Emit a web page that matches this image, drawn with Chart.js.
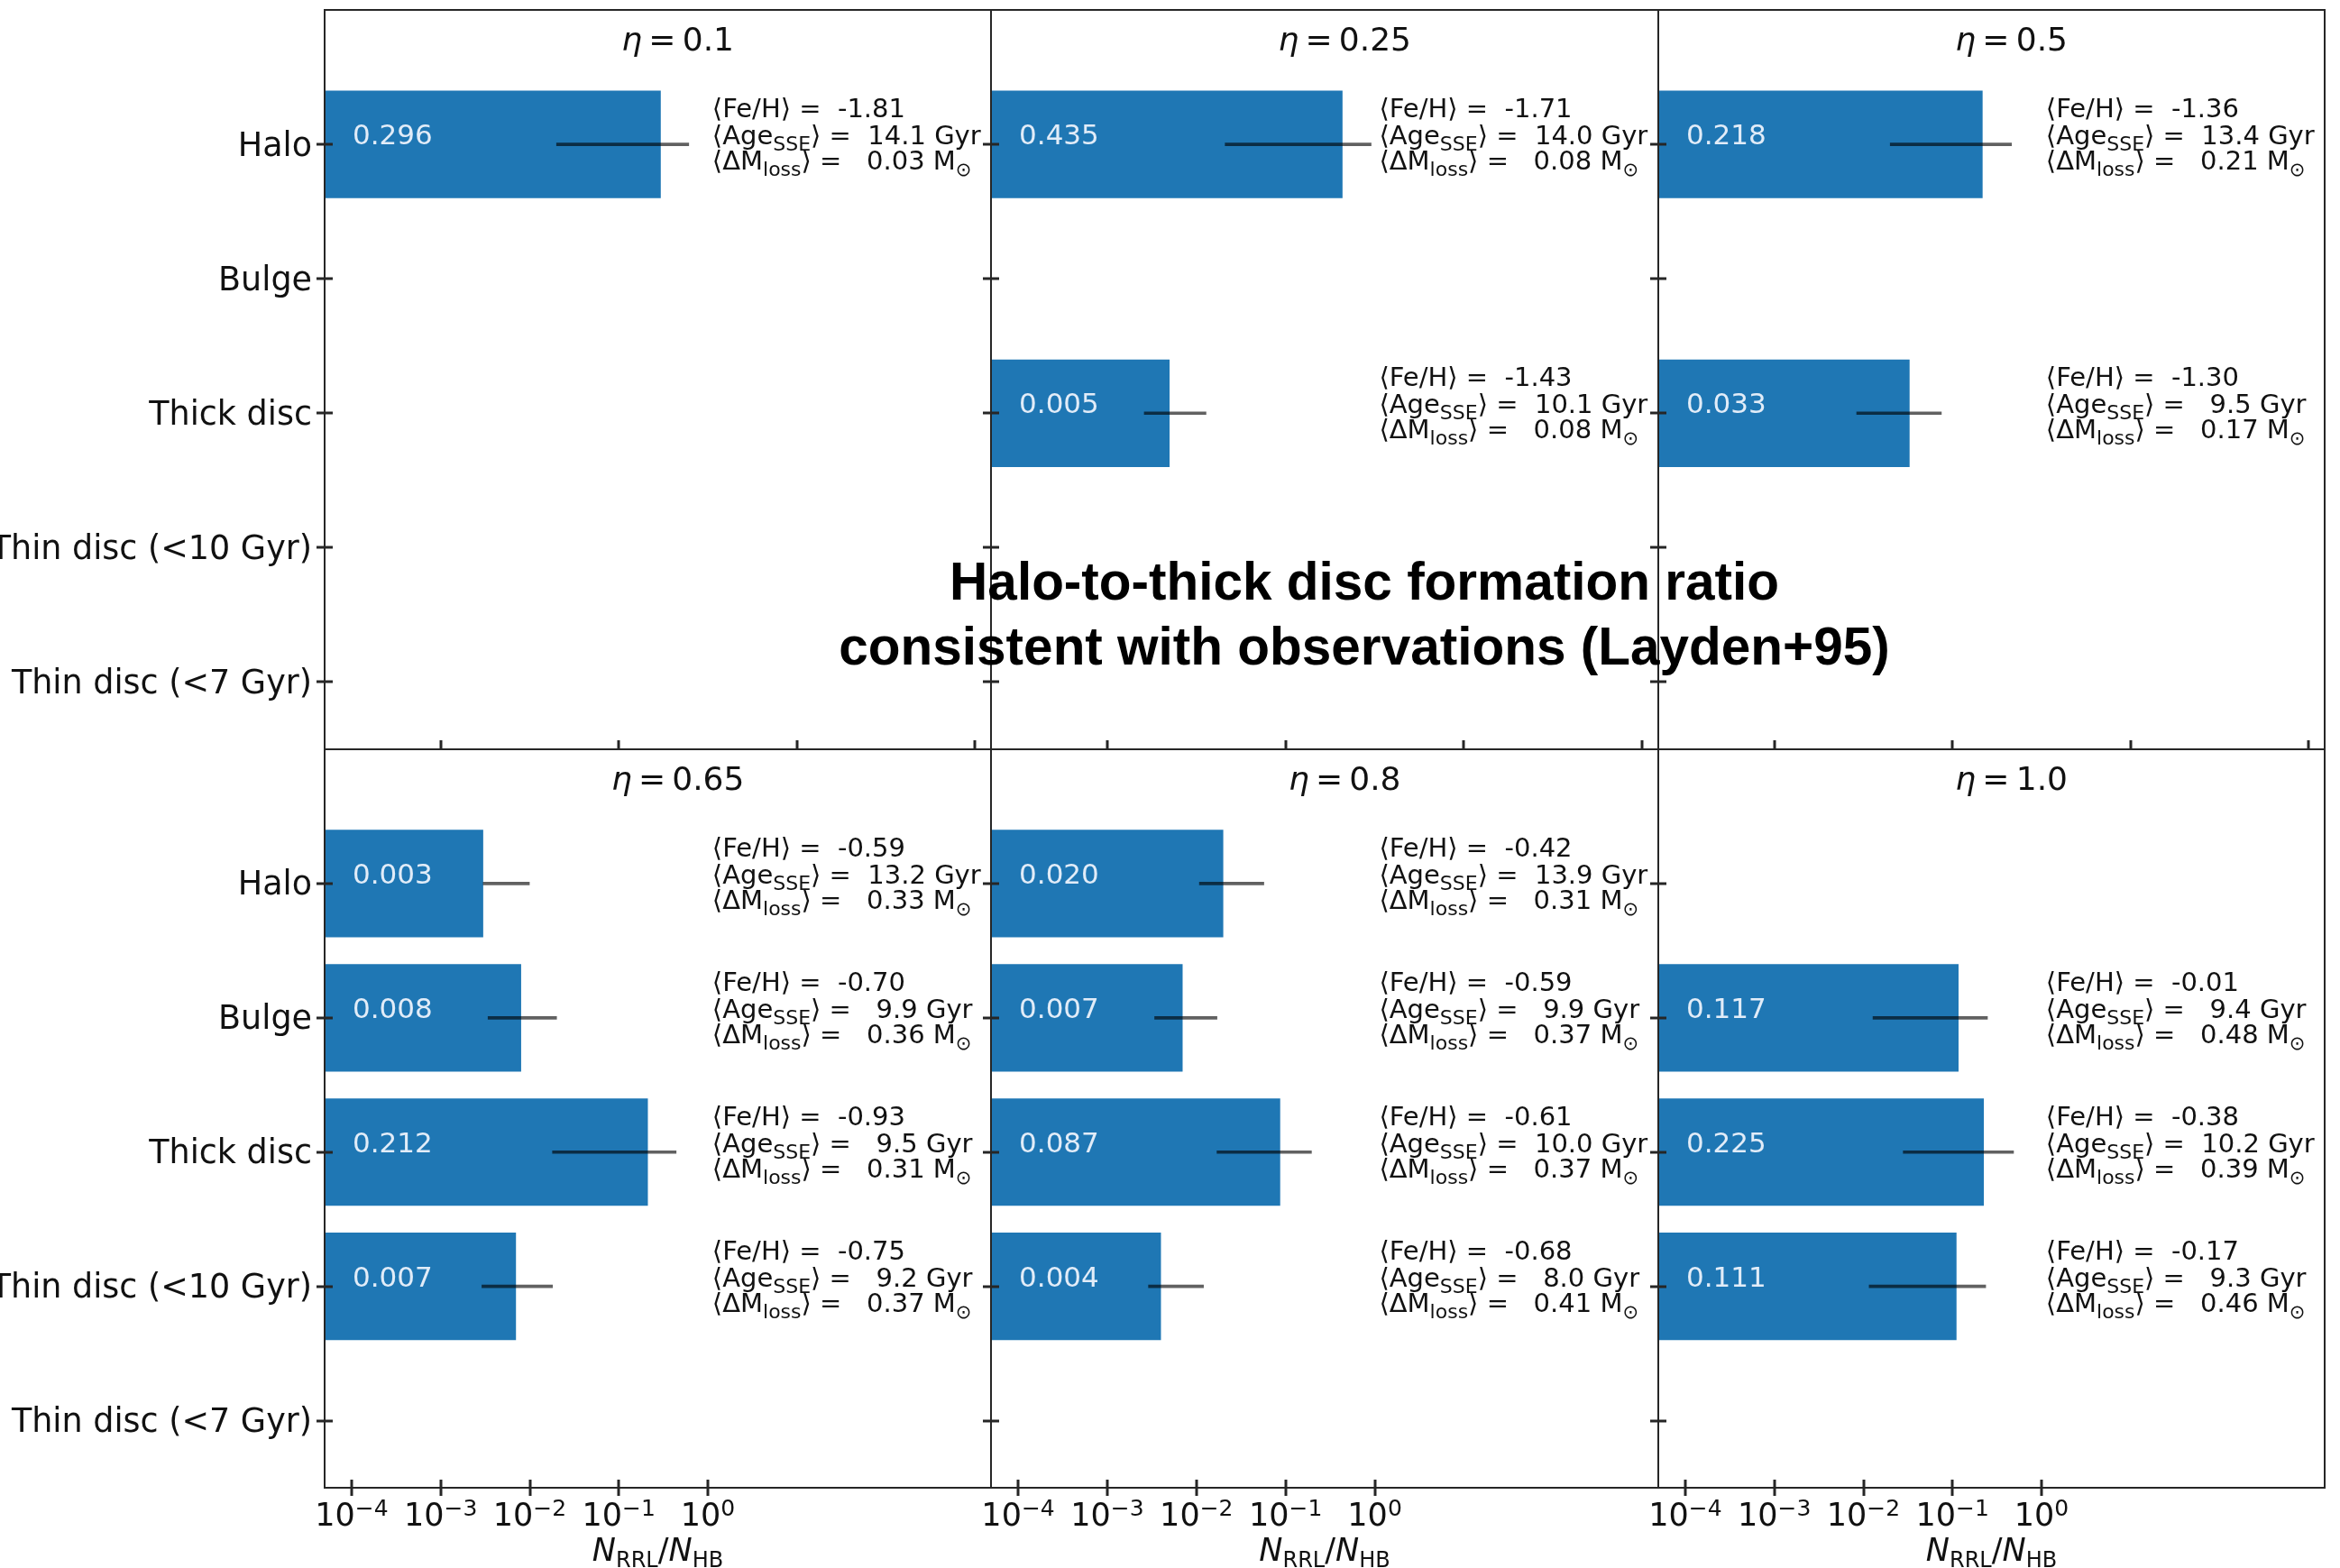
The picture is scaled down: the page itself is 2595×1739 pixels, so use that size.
<!DOCTYPE html>
<html>
<head>
<meta charset="utf-8">
<title>RR Lyrae fraction per Galactic component</title>
<script src="https://cdn.jsdelivr.net/npm/chart.js@4.4.1/dist/chart.umd.min.js"></script>
<style>
  html, body { margin: 0; padding: 0; background: #fff; }
  #fig { position: relative; width: 2595px; height: 1739px; overflow: hidden; background: #fff; }
  #fig canvas { position: absolute; }
  #note {
    position: absolute; left: 713px; top: 609px; width: 1600px;
    font: bold 58.5px "Liberation Sans", Arial, Helvetica, sans-serif;
    line-height: 72px; text-align: center; color: #000; white-space: nowrap; z-index: 10;
  }
</style>
</head>
<body>
<div id="fig">
  <div id="note">Halo-to-thick disc formation ratio<br>consistent with observations (Layden+95)</div>
</div>
<script>
// Galactic components (rows of every panel, top to bottom)
const categories = ['Halo', 'Bulge', 'Thick disc', 'Thin disc (<10 Gyr)', 'Thin disc (<7 Gyr)'];

// Mass-loss efficiency eta of each panel (row-major: top row then bottom row)
const etaLabels = ['0.1', '0.25', '0.5', '0.65', '0.8', '1.0'];

// N_RRL / N_HB per panel and component (null: no RR Lyrae produced)
const ratio = [
  [0.296, null, null, null, null],
  [0.435, null, 0.005, null, null],
  [0.218, null, 0.033, null, null],
  [0.003, 0.008, 0.212, 0.007, null],
  [0.020, 0.007, 0.087, 0.004, null],
  [null, 0.117, 0.225, 0.111, null]
];

// Lower and upper ends of the uncertainty on N_RRL / N_HB
const errLow = [
  [0.020, null, null, null, null],
  [0.021, null, 0.0026, null, null],
  [0.020, null, 0.0084, null, null],
  [0.003, 0.0034, 0.018, 0.0029, null],
  [0.0108, 0.0034, 0.017, 0.0029, null],
  [null, 0.0128, 0.028, 0.0116, null]
];
const errHigh = [
  [0.61, null, null, null, null],
  [0.91, null, 0.0128, null, null],
  [0.46, null, 0.075, null, null],
  [0.0099, 0.020, 0.44, 0.018, null],
  [0.057, 0.017, 0.195, 0.012, null],
  [null, 0.247, 0.485, 0.236, null]
];

// Mean properties of the RR Lyrae stars
const meanFeH = [
  [-1.81, null, null, null, null],
  [-1.71, null, -1.43, null, null],
  [-1.36, null, -1.30, null, null],
  [-0.59, -0.70, -0.93, -0.75, null],
  [-0.42, -0.59, -0.61, -0.68, null],
  [null, -0.01, -0.38, -0.17, null]
];
const meanAge = [
  [14.1, null, null, null, null],
  [14.0, null, 10.1, null, null],
  [13.4, null, 9.5, null, null],
  [13.2, 9.9, 9.5, 9.2, null],
  [13.9, 9.9, 10.0, 8.0, null],
  [null, 9.4, 10.2, 9.3, null]
];
const meanMassLoss = [
  [0.03, null, null, null, null],
  [0.08, null, 0.08, null, null],
  [0.21, null, 0.17, null, null],
  [0.33, 0.36, 0.31, 0.37, null],
  [0.31, 0.37, 0.37, 0.41, null],
  [null, 0.48, 0.39, 0.46, null]
];

// Log-axis tick values
const xTicksBottom = [1e-4, 1e-3, 1e-2, 1e-1, 1];
const xTicksTop = [1e-3, 1e-1, 1e1, 1e3];

// Axis limits
const X_MIN = Math.pow(10, -4.304);
const X_MAX = Math.pow(10, 3.18);
const Y_MIN = -1;
const Y_MAX = 4.5;
const LABEL_AT = 1e-4;   // x where the value text inside the bars starts
const NOTE_AT = 1.12;    // x where the mean-property text starts

// Figure grid (pixels)
const colLeft = [360, 1099, 1839];
const colWidth = [739, 740, 739];
const rowTop = [11, 831];
const rowHeight = [820, 819];

const FAMILY = "'DejaVu Sans', 'Liberation Sans', sans-serif";
const TEXT = '#111';
const AXIS = '#262626';
const BAR = '#1f77b4';

function fontOf(p) {
  return (p.italic ? 'italic ' : '') + p.size + 'px ' + FAMILY;
}
function richWidth(ctx, parts) {
  let w = 0;
  for (const p of parts) { ctx.font = fontOf(p); w += ctx.measureText(p.t).width; }
  return w;
}
function drawRich(ctx, parts, x, y) {
  for (const p of parts) {
    ctx.font = fontOf(p);
    ctx.fillText(p.t, x, y + (p.dy || 0));
    x += ctx.measureText(p.t).width;
  }
}
function superscript(n) {
  return n < 0 ? '\u2212' + Math.abs(n) : String(n);
}

function makeDecor(p) {
  const row = p < 3 ? 0 : 1;
  return {
    id: 'decor' + p,
    afterDatasetsDraw(chart) {
      const { ctx, scales: { x, y } } = chart;
      ctx.save();
      ctx.textAlign = 'left';
      ctx.textBaseline = 'alphabetic';
      ratio[p].forEach((v, i) => {
        if (v === null) return;
        const cy = y.getPixelForValue(i);
        // value inside the bar
        ctx.font = '31px ' + FAMILY;
        ctx.fillStyle = 'rgba(236,242,252,0.95)';
        ctx.fillText(v.toFixed(3), x.getPixelForValue(LABEL_AT) + 1, cy);
        // mean properties
        const ax = x.getPixelForValue(NOTE_AT);
        ctx.fillStyle = TEXT;
        drawRich(ctx, [
          { t: '\u27E8Fe/H\u27E9 =  ' + meanFeH[p][i].toFixed(2).padStart(5), size: 29 }
        ], ax, cy - 30);
        drawRich(ctx, [
          { t: '\u27E8Age', size: 29 },
          { t: 'SSE', size: 22, dy: 7 },
          { t: '\u27E9 =  ' + meanAge[p][i].toFixed(1).padStart(4) + ' Gyr', size: 29 }
        ], ax, cy);
        drawRich(ctx, [
          { t: '\u27E8\u0394M', size: 29 },
          { t: 'loss', size: 22, dy: 7 },
          { t: '\u27E9 =  ' + meanMassLoss[p][i].toFixed(2).padStart(5) + ' M', size: 29 },
          { t: '\u2299', size: 21, dy: 7 }
        ], ax, cy + 28);
      });
      ctx.restore();
    },
    afterDraw(chart) {
      const { ctx, chartArea: a, scales: { x, y } } = chart;
      ctx.save();
      // frame
      ctx.strokeStyle = AXIS;
      ctx.lineWidth = 2;
      ctx.strokeRect(a.left, a.top, a.right - a.left, a.bottom - a.top);
      // tick marks
      ctx.lineWidth = 3;
      ctx.beginPath();
      y.ticks.forEach(t => {
        const py = Math.round(y.getPixelForValue(t.value));
        ctx.moveTo(a.left - 9, py); ctx.lineTo(a.left + 9, py);
      });
      x.ticks.forEach(t => {
        const px = Math.round(x.getPixelForValue(t.value));
        if (row === 1) { ctx.moveTo(px, a.bottom + 9); ctx.lineTo(px, a.bottom - 9); }
        else { ctx.moveTo(px, a.bottom); ctx.lineTo(px, a.bottom - 10); }
      });
      ctx.stroke();

      ctx.fillStyle = TEXT;
      ctx.textAlign = 'left';
      ctx.textBaseline = 'alphabetic';
      // x tick labels and axis title on the bottom row
      if (row === 1) {
        x.ticks.forEach(t => {
          const e = Math.round(Math.log10(t.value));
          const parts = [
            { t: '10', size: 35 },
            { t: superscript(e), size: 25, dy: -11 }
          ];
          const w = richWidth(ctx, parts);
          drawRich(ctx, parts, x.getPixelForValue(t.value) - w / 2, a.bottom + 42);
        });
        const lab = [
          { t: 'N', size: 35, italic: true },
          { t: 'RRL', size: 24, dy: 7 },
          { t: '/', size: 35 },
          { t: 'N', size: 35, italic: true },
          { t: 'HB', size: 24, dy: 7 }
        ];
        const lw = richWidth(ctx, lab);
        drawRich(ctx, lab, (a.left + a.right) / 2 - lw / 2, a.bottom + 81);
      }
      // panel title
      const tparts = [
        { t: '\u03B7', size: 36, italic: true },
        { t: '\u2009=\u2009' + etaLabels[p], size: 36 }
      ];
      const tw = richWidth(ctx, tparts);
      drawRich(ctx, tparts, a.left + 0.53 * (a.right - a.left) - tw / 2, a.top + 45);
      ctx.restore();
    }
  };
}

const fig = document.getElementById('fig');
const note = document.getElementById('note');

for (let p = 0; p < 6; p++) {
  const row = p < 3 ? 0 : 1;
  const col = p % 3;
  const Lm = col === 0 ? 360 : 24;
  const Rm = col === 2 ? 17 : 24;
  const Tm = row === 0 ? 11 : 24;
  const Bm = row === 1 ? 89 : 24;

  const canvas = document.createElement('canvas');
  canvas.width = Lm + colWidth[col] + Rm;
  canvas.height = Tm + rowHeight[row] + Bm;
  canvas.style.left = (colLeft[col] - Lm) + 'px';
  canvas.style.top = (rowTop[row] - Tm) + 'px';
  fig.insertBefore(canvas, note);

  const barData = [];
  const errData = [];
  ratio[p].forEach((v, i) => {
    if (v === null) return;
    barData.push({ x: v, y: i });
    errData.push({ x: [errLow[p][i], errHigh[p][i]], y: i });
  });

  const tickVals = row === 1 ? xTicksBottom : xTicksTop;

  new Chart(canvas, {
    type: 'bar',
    data: {
      datasets: [
        {
          label: 'N_RRL/N_HB',
          data: barData,
          backgroundColor: BAR,
          borderWidth: 0,
          grouped: false,
          categoryPercentage: 0.8,
          barPercentage: 1.0,
          order: 2
        },
        {
          label: 'uncertainty',
          data: errData,
          backgroundColor: 'rgba(0,0,0,0.62)',
          borderWidth: 0,
          grouped: false,
          barThickness: 3,
          order: 1
        }
      ]
    },
    options: {
      indexAxis: 'y',
      responsive: false,
      animation: false,
      devicePixelRatio: 1,
      layout: { padding: { left: 0, top: Tm, right: Rm, bottom: 0 } },
      plugins: { legend: { display: false }, tooltip: { enabled: false } },
      scales: {
        x: {
          type: 'logarithmic',
          position: 'bottom',
          min: X_MIN,
          max: X_MAX,
          bounds: 'data',
          offset: false,
          grid: { display: false, drawTicks: false },
          border: { display: false },
          ticks: { display: false },
          afterBuildTicks: s => { s.ticks = tickVals.map(v => ({ value: v })); },
          afterFit: s => { s.height = Bm; s.paddingLeft = 0; s.paddingRight = 0; }
        },
        y: {
          type: 'linear',
          position: 'left',
          reverse: true,
          min: Y_MIN,
          max: Y_MAX,
          bounds: 'data',
          offset: false,
          grid: { display: false, drawTicks: false, offset: false },
          border: { display: false },
          ticks: {
            display: col === 0,
            padding: 14,
            labelOffset: 3,
            autoSkip: false,
            color: TEXT,
            font: { family: FAMILY, size: 36.5 },
            callback: v => categories[v] !== undefined ? categories[v] : ''
          },
          afterBuildTicks: s => { s.ticks = categories.map((c, i) => ({ value: i })); },
          afterFit: s => { s.width = Lm; s.paddingTop = 0; s.paddingBottom = 0; }
        }
      }
    },
    plugins: [makeDecor(p)]
  });
}
</script>
</body>
</html>
